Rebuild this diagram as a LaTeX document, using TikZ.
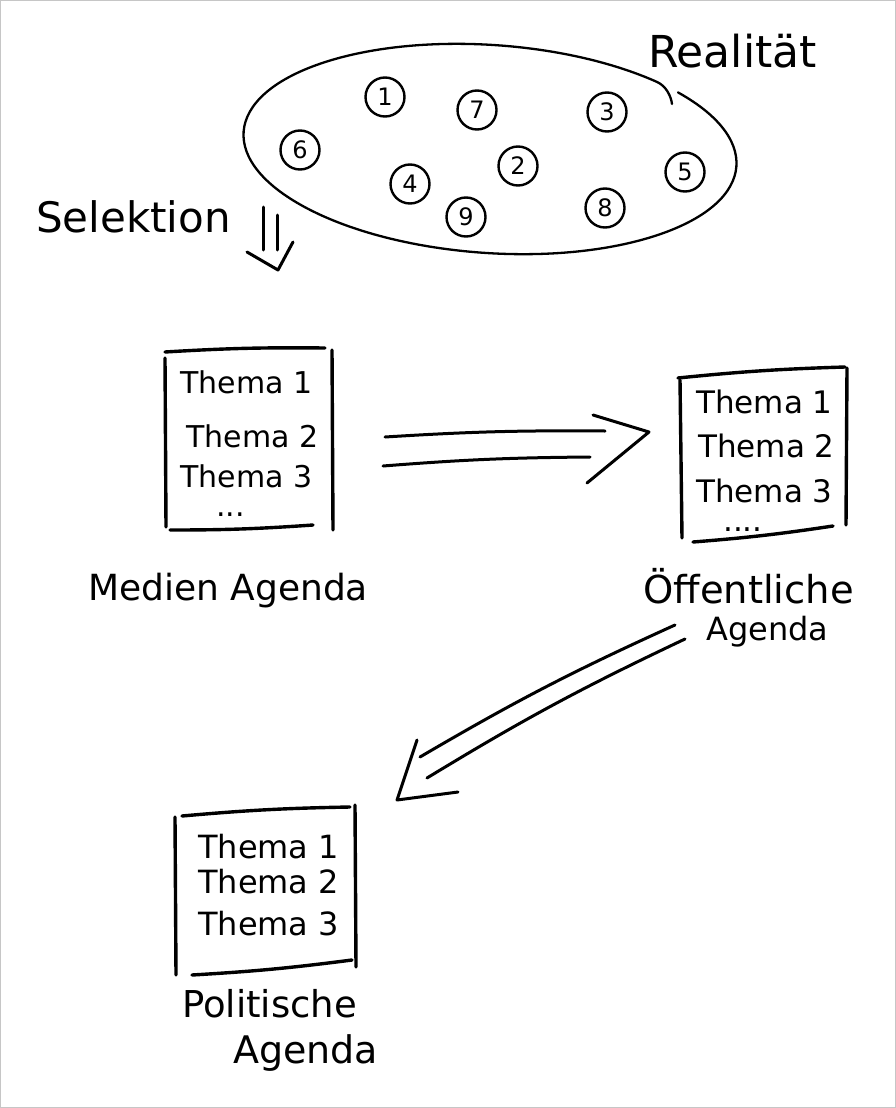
\documentclass[tikz,border=0pt]{standalone}
\usepackage{fontspec}
\setmainfont{DejaVu Sans}
\begin{document}
\begin{tikzpicture}[x=1pt,y=-1pt,
  pen/.style={line width=3.4pt, line cap=round, line join=round},
  finepen/.style={line width=2.3pt, line cap=round, line join=round},
  arr/.style={line width=3pt, line cap=round, line join=round},
  numc/.style={circle, draw, line width=2.4pt, minimum size=39pt, inner sep=0pt, font=\fontsize{24}{24}\selectfont},
  txt/.style={anchor=base west, inner sep=0pt},
]
\useasboundingbox (0,0) rectangle (896,1108);
\fill[white] (0,0) rectangle (896,1108);
\draw[gray!45, line width=1.2pt] (0.6,0.6) rectangle (895.4,1107.4);

% Realitaet ellipse (open at upper right)
\begin{scope}[shift={(490,149)}, rotate=-4]
  \draw[finepen] (-42:247 and 104) arc[start angle=-42, end angle=311, x radius=247, y radius=104] coordinate (ellend);
\end{scope}
\draw[finepen] (ellend) .. controls (666,86) and (671,96) .. (672,104);

\node[txt, font=\fontsize{44}{44}\selectfont] (real) at (648,67) {Realität};

\node[numc] (n1) at (385,97) {1};
\node[numc] (n7) at (477,110) {7};
\node[numc] (n3) at (607,112) {3};
\node[numc] (n6) at (300,150) {6};
\node[numc] (n2) at (518,166) {2};
\node[numc] (n5) at (685,172) {5};
\node[numc] (n4) at (410,184) {4};
\node[numc] (n9) at (466,217) {9};
\node[numc] (n8) at (605,208) {8};

% Selektion
\node[txt, font=\fontsize{42}{42}\selectfont] (sel) at (36,232) {Selektion};
\coordinate (sa1) at (263,207); \coordinate (sb1) at (263,250);
\coordinate (sa2) at (277,215); \coordinate (sb2) at (277,250);
\coordinate (sh1) at (247,252); \coordinate (stip) at (278,270); \coordinate (sh2) at (293,242);
\draw[arr] (sa1) -- (sb1);
\draw[arr] (sa2) -- (sb2);
\draw[arr] (sh1) -- (stip) -- (sh2);

% Medien Agenda box
\draw[pen] (165,352) to[bend left=2] (325,348);
\draw[pen] (165,358) -- (166,527);
\draw[pen] (332,350) -- (333,530);
\draw[pen] (170,530) to[bend right=2] (313,525);
\node[txt, font=\fontsize{30}{30}\selectfont] (m1) at (180,393) {Thema 1};
\node[txt, font=\fontsize{30}{30}\selectfont] (m2) at (186,447) {Thema 2};
\node[txt, font=\fontsize{30}{30}\selectfont] (m3) at (180,487) {Thema 3};
\node[txt, font=\fontsize{30}{30}\selectfont] (m4) at (216,516) {...};
\node[txt, font=\fontsize{36}{36}\selectfont] (medien) at (88,600) {Medien Agenda};

% arrow Medien -> Oeffentliche
\coordinate (ha1) at (385,437); \coordinate (hb1) at (605,431);
\coordinate (ha2) at (383,466); \coordinate (hb2) at (590,457);
\coordinate (hh1) at (593,415); \coordinate (htip) at (649,432); \coordinate (hh2) at (587,483);
\draw[arr] (ha1) to[bend left=2] (hb1);
\draw[arr] (ha2) to[bend left=2] (hb2);
\draw[arr] (hh1) -- (htip) -- (hh2);

% Oeffentliche Agenda box
\draw[pen] (678,378) to[bend left=2] (845,367);
\draw[pen] (680,380) -- (682,538);
\draw[pen] (847,368) -- (846,525);
\draw[pen] (693,542) to[bend right=2] (833,526);
\node[txt, font=\fontsize{31}{31}\selectfont] (o1) at (696,413) {Thema 1};
\node[txt, font=\fontsize{31}{31}\selectfont] (o2) at (698,457) {Thema 2};
\node[txt, font=\fontsize{31}{31}\selectfont] (o3) at (696,502) {Thema 3};
\node[txt, font=\fontsize{31}{31}\selectfont] (o4) at (723,531) {....};
\node[txt, font=\fontsize{38.5}{38.5}\selectfont] (oeff) at (643,603) {Öffentliche};
\node[txt, font=\fontsize{32}{32}\selectfont] (oeffag) at (706,640) {Agenda};

% arrow Oeffentliche -> Politische
\coordinate (da1) at (675,625); \coordinate (db1) at (420,757);
\coordinate (da2) at (685,639); \coordinate (db2) at (427,778);
\coordinate (dh1) at (417,740); \coordinate (dtip) at (397,800); \coordinate (dh2) at (458,792);
\draw[arr] (da1) to[bend right=3] (db1);
\draw[arr] (da2) to[bend right=3] (db2);
\draw[arr] (dh1) -- (dtip) -- (dh2);

% Politische Agenda box
\draw[pen] (182,816) to[bend left=2] (350,807);
\draw[pen] (175,817) -- (176,975);
\draw[pen] (355,805) -- (356,967);
\draw[pen] (192,975) to[bend right=2] (352,960);
\node[txt, font=\fontsize{32}{32}\selectfont] (p1) at (198,858) {Thema 1};
\node[txt, font=\fontsize{32}{32}\selectfont] (p2) at (198,893) {Thema 2};
\node[txt, font=\fontsize{32}{32}\selectfont] (p3) at (198,935) {Thema 3};
\node[txt, font=\fontsize{37}{37}\selectfont] (pol) at (182,1017) {Politische};
\node[txt, font=\fontsize{38}{38}\selectfont] (polag) at (233,1063) {Agenda};
\end{tikzpicture}
\end{document}
